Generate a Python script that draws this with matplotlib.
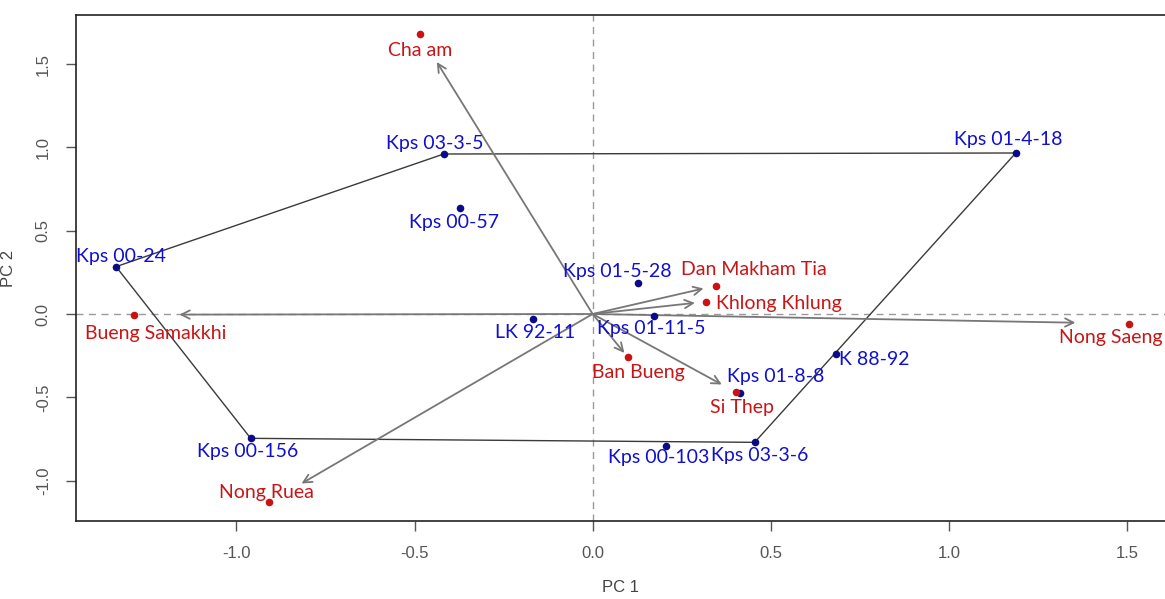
import matplotlib
matplotlib.use("Agg")
import matplotlib.pyplot as plt

# ---------------- data ----------------
gen_names = ["Kps 01-4-18", "Kps 03-3-5", "Kps 00-57", "Kps 00-24", "Kps 00-156",
             "LK 92-11", "Kps 01-5-28", "Kps 01-11-5", "K 88-92", "Kps 01-8-8",
             "Kps 03-3-6", "Kps 00-103"]
gen_pc1 = [1.188, -0.418, -0.373, -1.338, -0.960, -0.167, 0.127, 0.172, 0.683, 0.415, 0.455, 0.206]
gen_pc2 = [0.966, 0.960, 0.638, 0.284, -0.746, -0.030, 0.188, -0.010, -0.242, -0.472, -0.770, -0.792]

env_names = ["Cha am", "Bueng Samakkhi", "Nong Ruea", "Dan Makham Tia", "Khlong Khlung",
             "Ban Bueng", "Si Thep", "Nong Saeng"]
env_pc1 = [-0.486, -1.289, -0.908, 0.346, 0.319, 0.099, 0.403, 1.506]
env_pc2 = [1.680, -0.004, -1.130, 0.170, 0.074, -0.260, -0.470, -0.058]

hull_order = ["Kps 01-4-18", "Kps 03-3-5", "Kps 00-24", "Kps 00-156", "Kps 03-3-6"]

x_ticks = [-1.0, -0.5, 0.0, 0.5, 1.0, 1.5]
y_ticks = [-1.0, -0.5, 0.0, 0.5, 1.0, 1.5]

# ---------------- layout / style ----------------
W, H = 1165, 599
fig = plt.figure(figsize=(W / 100, H / 100), dpi=100)
ax = fig.add_axes([75.8 / W, 1 - 521 / H, 1 - 75.8 / W, (521 - 15) / H])
ax.set_xlim(-1.451, 1.607)
ax.set_ylim(-1.242, 1.794)

label_font = "Lato"
blue_txt = "#1010D0"
red_txt = "#C81515"

# zero reference lines
ax.axhline(0, color="#9a9a9a", lw=1.0, ls=(0, (5, 4)), zorder=1)
ax.axvline(0, color="#9a9a9a", lw=1.0, ls=(0, (5, 4)), zorder=1)

# polygon around vertex genotypes
gidx = {n: i for i, n in enumerate(gen_names)}
hx = [gen_pc1[gidx[n]] for n in hull_order] + [gen_pc1[gidx[hull_order[0]]]]
hy = [gen_pc2[gidx[n]] for n in hull_order] + [gen_pc2[gidx[hull_order[0]]]]
ax.plot(hx, hy, color="#3a3a3a", lw=1.0, zorder=2)

# environment vectors
for x, y in zip(env_pc1, env_pc2):
    ax.annotate("", xy=(0.9 * x, 0.9 * y), xytext=(0, 0),
                arrowprops=dict(arrowstyle="->,head_length=0.6,head_width=0.3",
                                color="#777777", lw=1.3, shrinkA=0, shrinkB=0),
                zorder=3)

# points
ax.scatter(gen_pc1, gen_pc2, s=30, color="#0a0a8a", zorder=5, linewidths=0)
ax.scatter(env_pc1, env_pc2, s=30, color="#cc1111", zorder=5, linewidths=0)

# label offsets in pixels (dx right, dy down)
gen_off = {"Kps 01-4-18": (-8, -14), "Kps 03-3-5": (-9, -11), "Kps 00-57": (-6, 15),
           "Kps 00-24": (5, -10), "Kps 00-156": (-3, 13), "LK 92-11": (2, 14),
           "Kps 01-5-28": (-21, -11), "Kps 01-11-5": (-3, 13), "K 88-92": (38, 5),
           "Kps 01-8-8": (35, -16), "Kps 03-3-6": (5, 13), "Kps 00-103": (-7, 12)}
env_off = {"Cha am": (1, 16), "Bueng Samakkhi": (22, 19), "Nong Ruea": (-3, -10),
           "Dan Makham Tia": (38, -16), "Khlong Khlung": (73, 2), "Ban Bueng": (10, 15),
           "Si Thep": (6, 15), "Nong Saeng": (-18, 14)}

for n, x, y in zip(gen_names, gen_pc1, gen_pc2):
    dx, dy = gen_off[n]
    ax.annotate(n, (x, y), xytext=(dx * 0.72, -dy * 0.72), textcoords="offset points",
                ha="center", va="center", fontsize=14, color=blue_txt,
                family=label_font, zorder=6, annotation_clip=False)
for n, x, y in zip(env_names, env_pc1, env_pc2):
    dx, dy = env_off[n]
    ax.annotate(n, (x, y), xytext=(dx * 0.72, -dy * 0.72), textcoords="offset points",
                ha="center", va="center", fontsize=14, color=red_txt,
                family=label_font, zorder=6, annotation_clip=False)

# axes styling
for s in ["top", "left", "bottom"]:
    ax.spines[s].set_color("#222222")
    ax.spines[s].set_linewidth(1.2)
ax.spines["right"].set_visible(False)
ax.set_xticks(x_ticks)
ax.set_yticks(y_ticks)
ax.set_xticklabels([f"{t:.1f}" for t in x_ticks])
ax.set_yticklabels([f"{t:.1f}" for t in y_ticks], rotation=90, va="center")
ax.tick_params(direction="out", length=7, width=1, colors="#555555",
               labelsize=12, pad=11)
for lab in ax.get_xticklabels() + ax.get_yticklabels():
    lab.set_family("Liberation Sans")
    lab.set_color("#555555")
ax.set_xlabel("PC 1", family="Liberation Sans", fontsize=12, color="#444444", labelpad=14)
ax.set_ylabel("PC 2", family="Liberation Sans", fontsize=12, color="#444444", labelpad=14)

fig.savefig("out.png", dpi=100)
